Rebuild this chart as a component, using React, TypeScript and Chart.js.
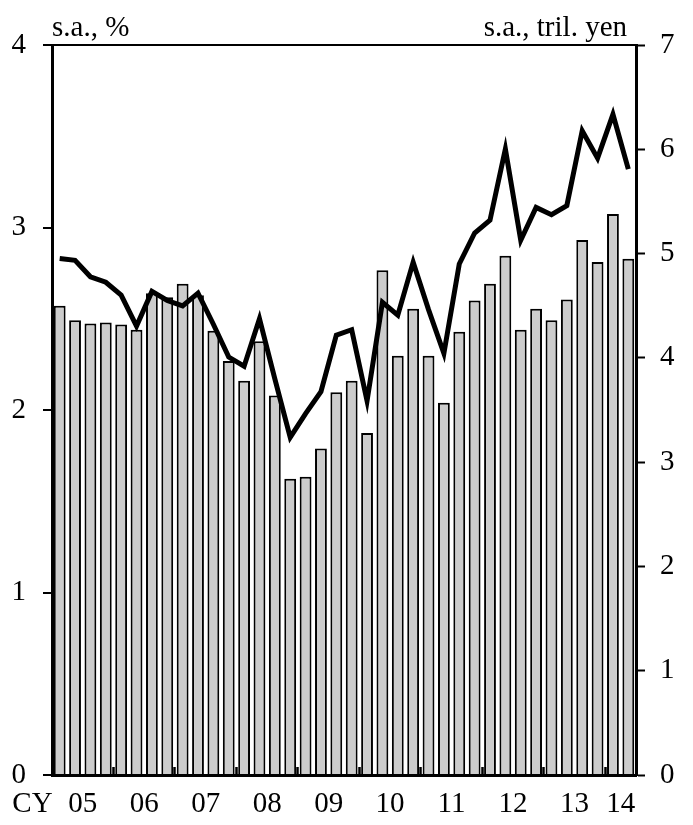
import React, { useEffect, useRef } from 'react';
import { Chart, registerables } from 'chart.js';

Chart.register(...registerables);

// Quarterly categories, CY2005 Q1 – CY2014 Q2
const quarterLabels = [
  '05Q1', '05Q2', '05Q3', '05Q4',
  '06Q1', '06Q2', '06Q3', '06Q4',
  '07Q1', '07Q2', '07Q3', '07Q4',
  '08Q1', '08Q2', '08Q3', '08Q4',
  '09Q1', '09Q2', '09Q3', '09Q4',
  '10Q1', '10Q2', '10Q3', '10Q4',
  '11Q1', '11Q2', '11Q3', '11Q4',
  '12Q1', '12Q2', '12Q3', '12Q4',
  '13Q1', '13Q2', '13Q3', '13Q4',
  '14Q1', '14Q2',
];

const yearLabels = ['05', '06', '07', '08', '09', '10', '11', '12', '13', '14'];
const axisPrefixLabel = 'CY';

// Bars: s.a., tril. yen (right axis)
const barValuesYen = [
  4.50, 4.36, 4.33, 4.34, 4.32, 4.27, 4.62, 4.58, 4.71, 4.60,
  4.26, 3.97, 3.78, 4.16, 3.64, 2.84, 2.86, 3.13, 3.67, 3.78,
  3.28, 4.84, 4.02, 4.47, 4.02, 3.57, 4.25, 4.55, 4.71, 4.98,
  4.27, 4.47, 4.36, 4.56, 5.13, 4.92, 5.38, 4.95,
];

// Line: s.a., % (left axis)
const lineValuesPct = [
  2.83, 2.82, 2.73, 2.70, 2.63, 2.46, 2.65, 2.60, 2.57, 2.64,
  2.47, 2.29, 2.24, 2.50, 2.17, 1.85, 1.98, 2.10, 2.41, 2.44,
  2.05, 2.59, 2.52, 2.81, 2.55, 2.31, 2.80, 2.97, 3.04, 3.43,
  2.93, 3.11, 3.07, 3.12, 3.53, 3.38, 3.62, 3.32,
];

const leftUnitLabel = 's.a., %';
const rightUnitLabel = 's.a., tril. yen';

const leftTicksMax = 4;
const rightTicksMax = 7;

const FONT_FAMILY = '"Liberation Serif", "Times New Roman", Times, serif';
const FONT_SIZE = 29;

// Derive year label positions and year boundary marks from the quarter list
function buildYearTicks() {
  const labelTicks: { value: number; label: string }[] = [];
  const boundaryTicks: number[] = [];
  yearLabels.forEach((yl) => {
    const idx: number[] = [];
    quarterLabels.forEach((q, i) => {
      if (q.startsWith(yl)) idx.push(i);
    });
    if (!idx.length) return;
    const first = idx[0];
    const last = idx[idx.length - 1];
    labelTicks.push({ value: (first + last) / 2, label: yl });
    if (first > 0) boundaryTicks.push(first - 0.5);
  });
  return { labelTicks, boundaryTicks };
}

const unitLabelsPlugin = {
  id: 'unitLabels',
  afterDraw(chart: any) {
    const { ctx, chartArea } = chart;
    ctx.save();
    ctx.font = `${FONT_SIZE}px ${FONT_FAMILY}`;
    ctx.fillStyle = '#000';
    ctx.textBaseline = 'alphabetic';
    ctx.textAlign = 'left';
    ctx.fillText(leftUnitLabel, chartArea.left, chartArea.top - 9);
    ctx.textAlign = 'right';
    ctx.fillText(rightUnitLabel, chartArea.right - 9, chartArea.top - 9);
    ctx.restore();
  },
};

export default function App() {
  const canvasRef = useRef<HTMLCanvasElement | null>(null);

  useEffect(() => {
    if (!canvasRef.current) return;
    const { labelTicks, boundaryTicks } = buildYearTicks();
    const prefixValue = -1.77;
    // keep in-range ticks first and last so the axis padding stays sane
    const allTicks = [
      ...labelTicks.map((t) => t.value),
      prefixValue,
      ...boundaryTicks,
    ];
    const labelFor = (v: number) => {
      if (Math.abs(v - prefixValue) < 1e-6) return axisPrefixLabel;
      const t = labelTicks.find((lt) => Math.abs(lt.value - v) < 1e-6);
      return t ? t.label : '';
    };
    const isBoundary = (ctx: any) =>
      !!(ctx && ctx.tick) && boundaryTicks.some((b) => Math.abs(b - ctx.tick.value) < 1e-6);
    const font = { family: FONT_FAMILY, size: FONT_SIZE };

    const chart = new Chart(canvasRef.current, {
      type: 'bar',
      data: {
        labels: quarterLabels,
        datasets: [
          {
            type: 'line',
            data: lineValuesPct,
            yAxisID: 'yL',
            xAxisID: 'x',
            borderColor: '#000',
            borderWidth: 5,
            pointRadius: 0,
            tension: 0,
            borderJoinStyle: 'miter',
            fill: false,
            order: 0,
          } as any,
          {
            type: 'bar',
            data: barValuesYen,
            yAxisID: 'yR',
            xAxisID: 'x',
            backgroundColor: '#cccccc',
            borderColor: '#000',
            borderWidth: 2,
            barPercentage: 0.77,
            categoryPercentage: 1,
            order: 1,
          } as any,
        ],
      },
      options: {
        responsive: false,
        animation: false,
        layout: { padding: { top: 45, left: 0, right: 0, bottom: 0 } },
        plugins: {
          legend: { display: false },
          tooltip: { enabled: false },
          title: { display: false },
        },
        scales: {
          x: {
            type: 'category',
            display: false,
            offset: true,
          },
          xYears: {
            type: 'linear',
            position: 'bottom',
            offset: false,
            min: -0.5,
            max: quarterLabels.length - 0.5,
            bounds: 'data',
            afterBuildTicks: (scale: any) => {
              scale.ticks = allTicks.map((v) => ({ value: v }));
            },
            afterFit: (scale: any) => {
              scale.height = 50;
              scale.paddingLeft = 0;
              scale.paddingRight = 0;
            },
            ticks: {
              autoSkip: false,
              maxRotation: 0,
              minRotation: 0,
              padding: 20,
              color: '#000',
              font,
              callback: (v: any) => labelFor(Number(v)),
            },
            grid: {
              offset: false,
              drawOnChartArea: false,
              drawTicks: true,
              tickLength: -8,
              tickWidth: 2.5,
              color: 'rgba(0,0,0,0)',
              tickColor: (ctx: any) => (isBoundary(ctx) ? '#000' : 'rgba(0,0,0,0)'),
            },
            border: { display: true, color: '#000', width: 3, z: 1 },
          } as any,
          yL: {
            type: 'linear',
            position: 'left',
            min: 0,
            max: leftTicksMax,
            afterFit: (scale: any) => {
              scale.width = 52;
            },
            ticks: { stepSize: 1, padding: 17, color: '#000', font },
            grid: {
              drawOnChartArea: true,
              color: (ctx: any) =>
                ctx && ctx.tick && ctx.tick.value === leftTicksMax ? '#000' : 'rgba(0,0,0,0)',
              tickColor: '#000',
              tickLength: 9,
              lineWidth: 2,
              tickWidth: 2,
            },
            border: { display: true, color: '#000', width: 3, z: 1 },
          } as any,
          yR: {
            type: 'linear',
            position: 'right',
            min: 0,
            max: rightTicksMax,
            afterFit: (scale: any) => {
              scale.width = 57;
            },
            ticks: { stepSize: 1, padding: 15, color: '#000', font },
            grid: {
              drawOnChartArea: false,
              tickColor: '#000',
              tickLength: 9,
              tickWidth: 2,
            },
            border: { display: true, color: '#000', width: 3, z: 1 },
          } as any,
        },
      },
      plugins: [unitLabelsPlugin],
    });

    return () => chart.destroy();
  }, []);

  return (
    <div style={{ position: 'absolute', left: 0, top: 0, width: 693, height: 825, background: '#fff' }}>
      <canvas ref={canvasRef} width={693} height={825} style={{ width: 693, height: 825, display: 'block' }} />
    </div>
  );
}
